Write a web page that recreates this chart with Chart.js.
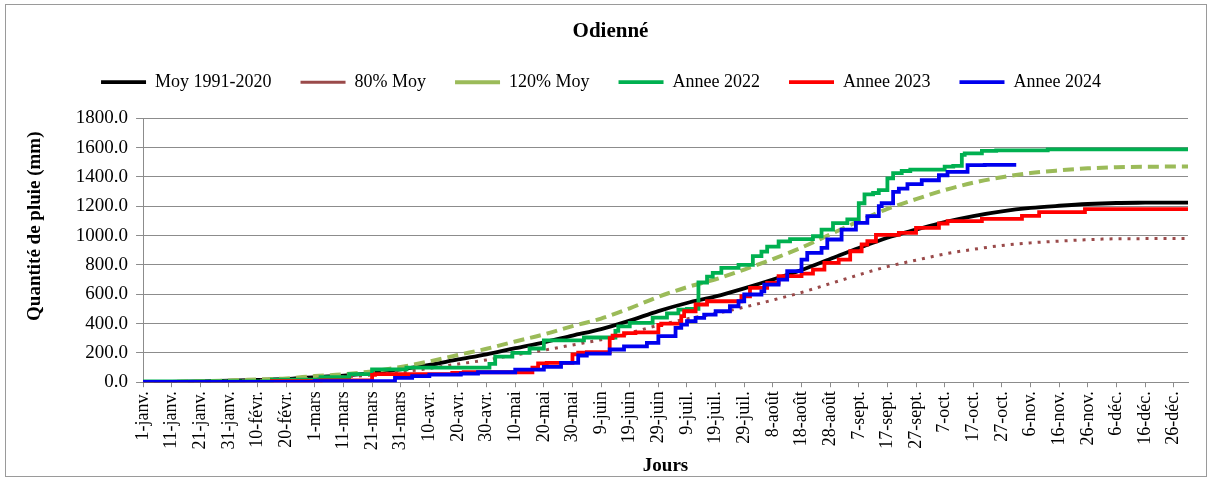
<!DOCTYPE html>
<html>
<head>
<meta charset="utf-8">
<script src="https://cdn.jsdelivr.net/npm/chart.js@4.4.1/dist/chart.umd.min.js"></script>
<style>
  html, body { margin: 0; padding: 0; background: #ffffff; }
  #wrap { position: relative; width: 1211px; height: 478px; }
  #frame { position: absolute; left: 5px; top: 4px; width: 1200px; height: 471px; border: 1px solid #9a9a9a; pointer-events: none; }
  canvas { position: absolute; left: 0; top: 0; }
</style>
</head>
<body>
<div id="wrap">
  <canvas id="c" width="1211" height="478"></canvas>
  <div id="frame"></div>
</div>
<script>
// ---- tick labels (every 10 days, leap-year calendar) ----
const TICK_LABELS = ['1-janv.','11-janv.','21-janv.','31-janv.','10-févr.','20-févr.','1-mars','11-mars','21-mars','31-mars',
  '10-avr.','20-avr.','30-avr.','10-mai','20-mai','30-mai','9-juin','19-juin','29-juin','9-juil.','19-juil.','29-juil.',
  '8-août','18-août','28-août','7-sept.','17-sept.','27-sept.','7-oct.','17-oct.','27-oct.','6-nov.','16-nov.','26-nov.',
  '6-déc.','16-déc.','26-déc.'];

const SERIES_NAMES = ['Moy 1991-2020', '80% Moy', '120% Moy', 'Annee 2022', 'Annee 2023', 'Annee 2024'];

// ---- normals (day of year index, cumulative mm) ----
const NORM_DAYS = [0,10,20,30,40,50,60,70,80,90,100,110,120,130,140,150,160,170,180,190,200,210,220,230,240,250,260,270,280,290,300,310,320,330,340,350,360,365];
const MOY      = [0,2,5,10,16,22,35,45,62,87,118,155,190,232,272,318,362,420,485,540,585,640,700,765,840,915,985,1040,1092,1133,1165,1188,1203,1215,1222,1224,1225,1225];
const MOY_80   = [0,2,4,8,13,18,28,36,50,70,94,124,152,186,218,254,290,336,388,432,468,512,560,612,672,732,788,832,874,906,932,950,962,972,978,979,980,980];
const MOY_120  = [0,2,6,12,19,26,42,54,74,104,142,186,228,278,326,382,434,504,582,648,702,768,840,918,1008,1098,1182,1248,1310,1360,1398,1426,1444,1458,1466,1469,1470,1470];

// ---- yearly cumulative rainfall (day index where total changes, cumulative mm) ----
const Y2022_DAYS = [0,45,62,72,80,92,121,123,129,135,140,154,165,166,170,178,183,187,190,194,197,199,202,208,213,216,218,222,226,234,237,241,246,250,252,255,257,260,262,265,268,280,283,286,287,293,298,316,318,365];
const Y2022      = [0,5,18,35,55,88,100,125,175,200,230,285,305,350,381,405,440,470,495,500,680,720,745,780,800,860,890,925,960,975,995,1040,1085,1110,1220,1280,1290,1310,1390,1425,1440,1449,1470,1475,1550,1560,1577,1580,1588,1588];

const Y2023_DAYS = [0,45,62,80,81,108,112,136,138,141,150,152,155,163,164,168,172,180,181,188,189,193,197,209,212,218,222,230,234,238,243,247,251,253,256,264,270,278,281,293,307,313,329,331,365];
const Y2023      = [0,3,8,12,50,55,64,68,100,128,132,190,202,205,300,318,335,340,390,400,450,484,530,552,586,643,677,723,740,768,814,836,893,939,961,1005,1018,1052,1082,1098,1114,1134,1159,1180,1180];

const Y2024_DAYS = [0,60,88,94,100,111,117,130,140,146,152,155,163,168,176,180,186,188,190,193,196,200,205,208,210,216,217,222,225,230,232,237,239,244,249,253,257,258,262,264,267,272,278,281,288,294,305];
const Y2024      = [0,2,8,30,41,52,59,68,86,105,132,182,195,223,245,268,314,370,393,416,439,461,484,518,552,598,620,666,700,757,836,882,916,973,1041,1086,1132,1200,1220,1298,1320,1350,1377,1411,1434,1480,1482];

const pts = (days, vals) => days.map((d, i) => ({ x: d, y: vals[i] }));

const FONT = "'Liberation Serif', 'Times New Roman', serif";

const ds = (label, days, vals, color, extra) => Object.assign({
  label, data: pts(days, vals), borderColor: color, backgroundColor: color,
  borderWidth: 3.8, pointRadius: 0, pointHoverRadius: 0, fill: false, tension: 0
}, extra);

// small layout adjustments (legend spacing below, title / y-title offsets)
const tweak = {
  id: 'tweak',
  beforeLayout(chart) {
    const lg = chart.legend;
    if (lg && !lg.__p) {
      const f = lg.fit;
      lg.fit = function () { f.call(this); this.height += 17; };
      lg.__p = true;
    }
  },
  afterLayout(chart) {
    if (chart.titleBlock) { chart.titleBlock.left += 19; }
    const y = chart.scales.y;
    if (y && !y.__p) {
      const d = y.drawTitle;
      y.drawTitle = function () { const b = this.bottom; this.bottom = b - 48; d.call(this); this.bottom = b; };
      y.__p = true;
    }
  }
};

new Chart(document.getElementById('c'), {
  type: 'line',
  data: {
    datasets: [
      ds(SERIES_NAMES[0], NORM_DAYS, MOY, '#000000', { order: 6, cubicInterpolationMode: 'monotone' }),
      ds(SERIES_NAMES[1], NORM_DAYS, MOY_80, '#9a4a4a', { order: 5, borderWidth: 3, borderDash: [3, 6], cubicInterpolationMode: 'monotone' }),
      ds(SERIES_NAMES[2], NORM_DAYS, MOY_120, '#9bbb59', { order: 4, borderWidth: 4, borderDash: [11, 6], cubicInterpolationMode: 'monotone' }),
      ds(SERIES_NAMES[3], Y2022_DAYS, Y2022, '#00b050', { order: 3, stepped: 'after' }),
      ds(SERIES_NAMES[4], Y2023_DAYS, Y2023, '#ff0000', { order: 2, stepped: 'after' }),
      ds(SERIES_NAMES[5], Y2024_DAYS, Y2024, '#0000ee', { order: 1, stepped: 'after' })
    ]
  },
  plugins: [tweak],
  options: {
    responsive: false,
    animation: false,
    devicePixelRatio: 1,
    layout: { padding: { left: 14, right: 23, top: 10, bottom: 1 } },
    plugins: {
      tooltip: { enabled: false },
      title: {
        display: true, text: 'Odienné', color: '#000',
        font: { family: FONT, size: 21, weight: 'bold' },
        padding: { top: 9, bottom: 0 }
      },
      legend: {
        display: true, position: 'top',
        labels: {
          color: '#000', font: { family: FONT, size: 18 },
          usePointStyle: true, pointStyle: 'line', pointStyleWidth: 45,
          padding: 29,
          sort: (a, b) => a.datasetIndex - b.datasetIndex
        }
      }
    },
    scales: {
      x: {
        type: 'linear', min: 0, max: 365,
        border: { display: true, color: '#8c8c8c', width: 1 },
        grid: { display: true, drawOnChartArea: false, drawTicks: true, tickLength: 5, color: '#8c8c8c' },
        ticks: {
          stepSize: 10, includeBounds: false, autoSkip: false, maxRotation: 90, minRotation: 90,
          padding: 4, color: '#000', font: { family: FONT, size: 18 },
          callback: (v) => TICK_LABELS[Math.round(v / 10)] ?? ''
        },
        title: { display: true, text: 'Jours', color: '#000', font: { family: FONT, size: 19, weight: 'bold' }, padding: { top: 0, bottom: 0 } }
      },
      y: {
        min: 0, max: 1800,
        border: { display: true, color: '#8c8c8c', width: 1 },
        grid: { color: '#8c8c8c', lineWidth: 1, tickLength: 7 },
        ticks: { stepSize: 200, padding: 8, color: '#000', font: { family: FONT, size: 19 }, callback: (v) => v.toFixed(1) },
        title: { display: true, text: 'Quantité de pluie (mm)', color: '#000', font: { family: FONT, size: 19, weight: 'bold' }, padding: { top: 10, bottom: 21 } }
      }
    }
  }
});
</script>
</body>
</html>
